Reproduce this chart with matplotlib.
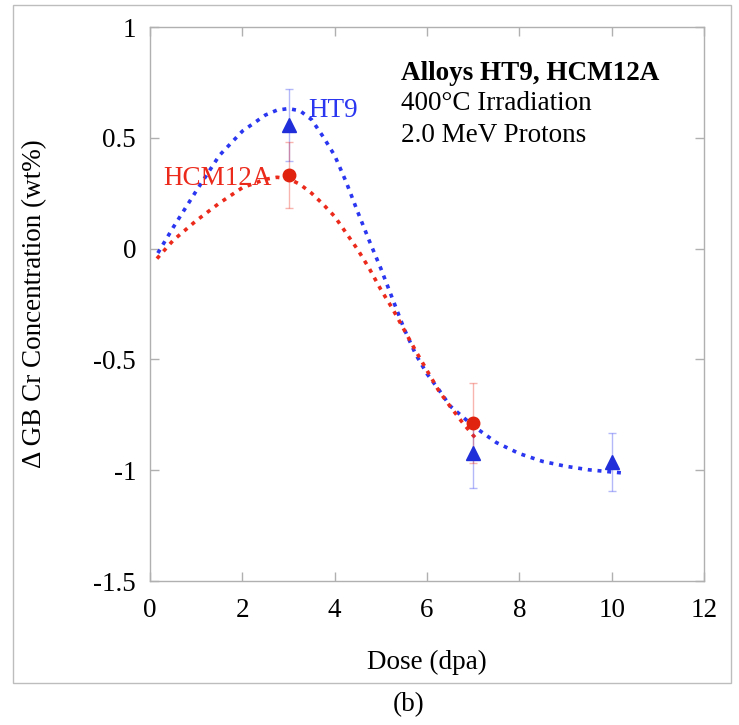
import matplotlib
matplotlib.use("Agg")
import matplotlib.pyplot as plt
from matplotlib.patches import Rectangle

plt.rcParams['font.family'] = ['Liberation Serif', 'DejaVu Serif']

# measured points
ht9_dose = [3, 7, 10]
ht9_cr = [0.558, -0.922, -0.963]
ht9_err = [0.162, 0.157, 0.13]

hcm_dose = [3, 7]
hcm_cr = [0.332, -0.787]
hcm_err = [0.147, 0.18]

# trend curves
ht9_fit_x = [0.17, 0.5, 1.0, 1.5, 2.0, 2.5, 2.75, 3.0, 3.25, 3.5, 3.75, 4.0, 4.25,
             4.5, 4.75, 5.0, 5.25, 5.5, 5.75, 6.0, 6.25, 6.5, 7.0, 7.5, 8.0, 8.5,
             9.0, 9.5, 10.0, 10.22]
ht9_fit_y = [-0.02, 0.095, 0.26, 0.42, 0.53, 0.603, 0.625, 0.632, 0.622, 0.582,
             0.505, 0.42, 0.30, 0.165, 0.035, -0.09, -0.225, -0.36, -0.475, -0.565,
             -0.635, -0.71, -0.80, -0.875, -0.925, -0.96, -0.982, -0.998, -1.008, -1.012]

hcm_fit_x = [0.15, 0.5, 1.0, 1.5, 2.0, 2.5, 2.75, 3.0, 3.25, 3.5, 3.75, 4.0, 4.25,
             4.5, 4.75, 5.0, 5.25, 5.5, 5.75, 6.0, 6.25, 6.5, 6.75, 7.0, 7.1]
hcm_fit_y = [-0.045, 0.037, 0.126, 0.205, 0.275, 0.313, 0.322, 0.316, 0.29, 0.25,
             0.2, 0.145, 0.07, -0.005, -0.09, -0.185, -0.27, -0.365, -0.46, -0.55,
             -0.64, -0.712, -0.78, -0.843, -0.865]

blue = '#2a36f0'
red = '#ec2a1c'
grey = '#b0b0b0'
fs = 19.5

fig = plt.figure(figsize=(7.39, 7.25), dpi=100)
ax = fig.add_axes([0.203, 0.1986, 0.7497, 0.7641])

# frame around the whole figure
fig.patches.append(Rectangle((0.0176, 0.0579), 0.9716, 0.9352, transform=fig.transFigure,
                             fill=False, edgecolor='#bdbdbd', lw=1.0))

dots = (0, (1.1, 1.6))
ax.plot(ht9_fit_x, ht9_fit_y, color=blue, lw=2.6, ls=dots, zorder=2)
ax.plot(hcm_fit_x, hcm_fit_y, color=red, lw=2.6, ls=dots, zorder=2)

ax.errorbar(ht9_dose, ht9_cr, yerr=ht9_err, fmt='none', ecolor=blue, alpha=0.35,
            elinewidth=1.0, capsize=2.6, capthick=1.0, zorder=3)
ax.errorbar(hcm_dose, hcm_cr, yerr=hcm_err, fmt='none', ecolor=red, alpha=0.35,
            elinewidth=1.0, capsize=2.6, capthick=1.0, zorder=3)
ax.plot(ht9_dose, ht9_cr, '^', color='#1f2ed8', ms=9.5, zorder=4)
ax.plot(hcm_dose, hcm_cr, 'o', color='#e0230f', ms=9, zorder=4)

ax.text(3.42, 0.595, 'HT9', color=blue, fontsize=fs, va='baseline', ha='left')
ax.text(2.64, 0.287, 'HCM12A', color=red, fontsize=fs, va='baseline', ha='right')

ax.text(5.43, 0.761, 'Alloys HT9, HCM12A', fontsize=fs, fontweight='bold', va='baseline')
ax.text(5.43, 0.625, '400\u00b0C Irradiation', fontsize=fs, va='baseline')
ax.text(5.43, 0.481, '2.0 MeV Protons', fontsize=fs, va='baseline')

ax.set_xlim(0, 12)
ax.set_ylim(-1.5, 1)
ax.set_xticks([0, 2, 4, 6, 8, 10, 12])
ax.set_yticks([-1.5, -1, -0.5, 0, 0.5, 1])
ax.set_yticklabels(['-1.5', '-1', '-0.5', '0', '0.5', '1'])

for s in ax.spines.values():
    s.set_color(grey)
    s.set_linewidth(1.0)
ax.tick_params(direction='in', top=True, right=True, length=6.5, width=1.0,
               color=grey, labelsize=fs)
ax.tick_params(axis='x', pad=12)
ax.tick_params(axis='y', pad=10)

ax.set_xlabel('Dose (dpa)', fontsize=fs)
ax.set_ylabel('\u0394 GB Cr Concentration (wt%)', fontsize=fs)
ax.xaxis.set_label_coords(0.5, -0.125)
ax.yaxis.set_label_coords(-0.186, 0.5)

fig.text(0.553, 0.0276, '(b)', fontsize=fs, ha='center', va='center')

fig.savefig('out.png', dpi=100)
